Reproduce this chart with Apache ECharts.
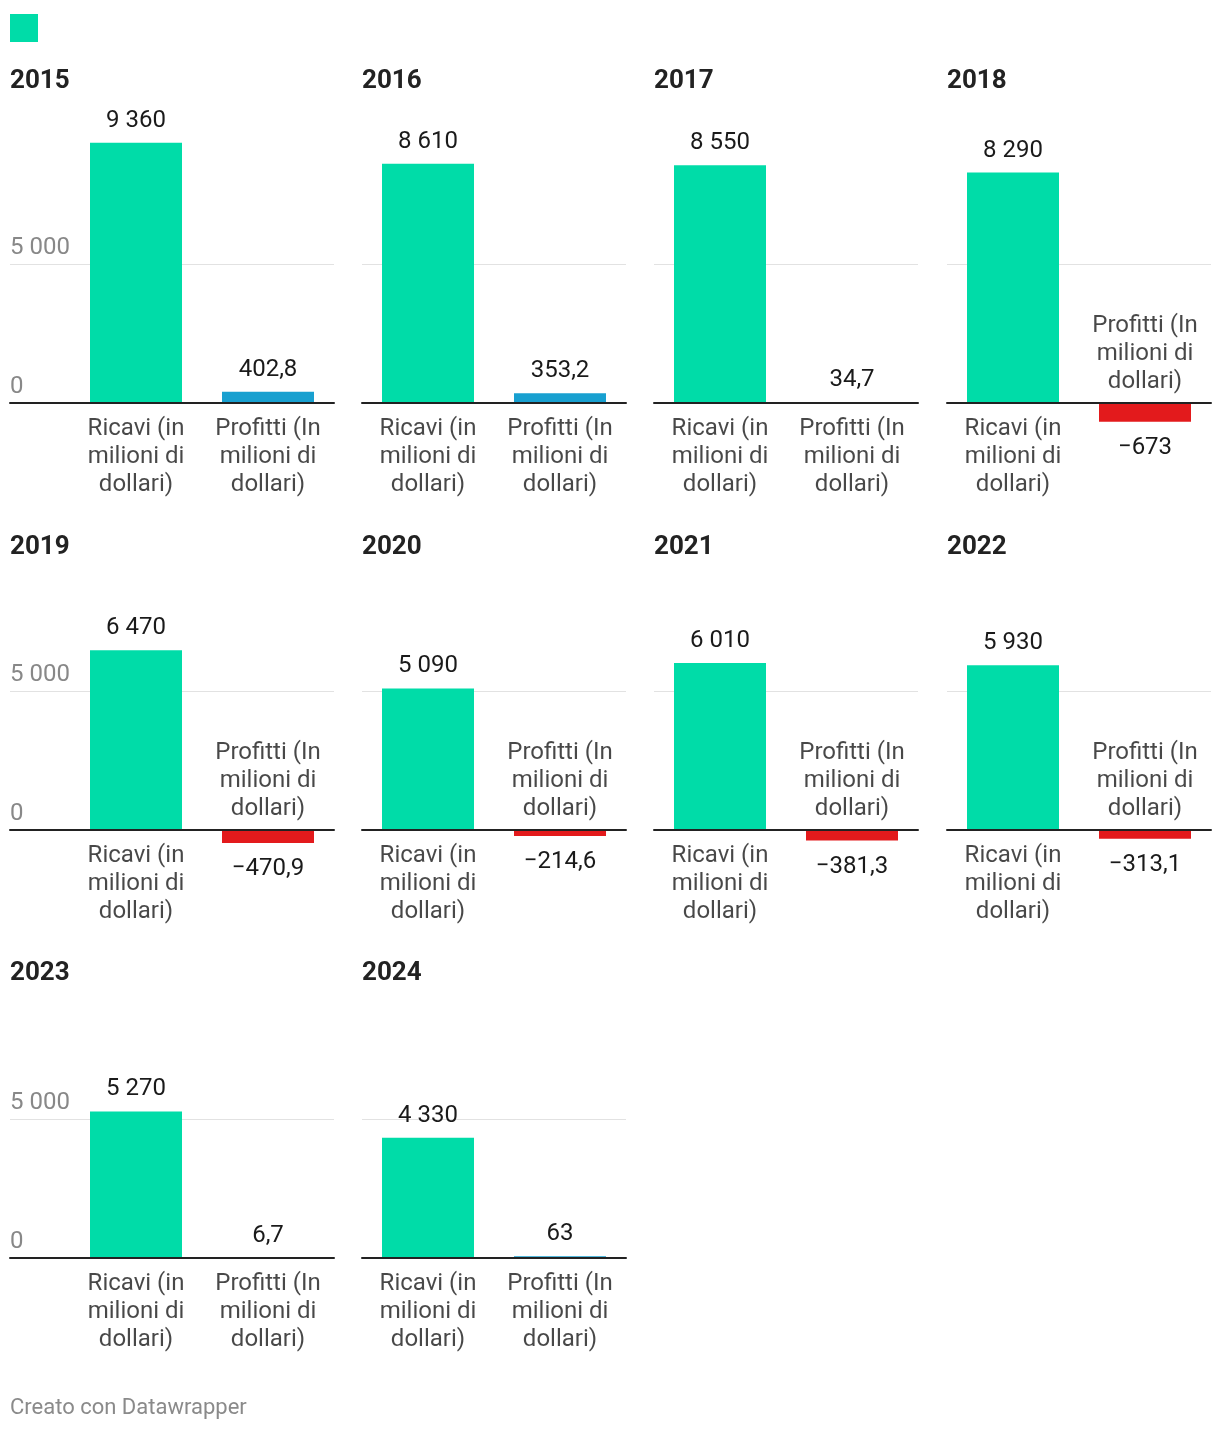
<!DOCTYPE html>
<html><head><meta charset="utf-8">
<script src="https://cdn.jsdelivr.net/npm/echarts@6/dist/echarts.min.js"></script>
<style>html,body{margin:0;padding:0;background:#fff}#c{width:1220px;height:1432px}</style>
</head><body><div id="c"></div>
<script>
// ---- data ----
const years = [2015, 2016, 2017, 2018, 2019, 2020, 2021, 2022, 2023, 2024];
const ricavi = [9360, 8610, 8550, 8290, 6470, 5090, 6010, 5930, 5270, 4330];
const profitti = [402.8, 353.2, 34.7, -673, -470.9, -214.6, -381.3, -313.1, 6.7, 63];
const categories = ['Ricavi (in\nmilioni di\ndollari)', 'Profitti (In\nmilioni di\ndollari)'];
const yTicks = [0, 5000];

// ---- layout / style ----
const FONT = 'Roboto';
const TEAL = '#00dca8', BLUE = '#18a0d0', RED = '#e31a1c';
const colLeft = [70, 362, 654, 947];
const bgLeft = [10, 362, 654, 947];
const PW = 264;
const baselines = [403, 830, 1258];
const titleOffset = [323, 284, 286];
const K = 0.0278;
const YMAX = 10000, YMIN = -5000;

function fmt(v) {
  const neg = v < 0;
  const s = String(Math.abs(v)).split('.');
  const intPart = s[0].replace(/\B(?=(\d{3})+(?!\d))/g, ' ');
  return (neg ? '\u2212' : '') + intPart + (s[1] ? ',' + s[1] : '');
}

const grid = [], xAxis = [], yAxis = [], series = [], title = [];
years.forEach((yr, i) => {
  const r = Math.floor(i / 4), c = i % 4;
  const base = baselines[r];
  const top = base - YMAX * K;
  const height = (YMAX - YMIN) * K;
  const bgI = 2 * i, barI = 2 * i + 1;
  grid.push({ left: bgLeft[c], width: colLeft[c] + PW - bgLeft[c], top: top, height: height });
  grid.push({ left: colLeft[c], width: PW, top: top, height: height });
  xAxis.push({
    type: 'category', gridIndex: bgI, data: categories, z: 10,
    axisLine: { show: true, onZero: true, lineStyle: { color: '#222', width: 2 } },
    axisTick: { show: false }, axisLabel: { show: false }, splitLine: { show: false }
  });
  xAxis.push({ type: 'category', gridIndex: barI, data: categories, show: false });
  yAxis.push({
    type: 'value', gridIndex: bgI, min: YMIN, max: YMAX, interval: 5000,
    axisLine: { show: false }, axisTick: { show: false },
    splitLine: { show: true, showMinLine: false, showMaxLine: false, lineStyle: { color: '#e2e2e2', width: 1 } },
    axisLabel: {
      show: c === 0, inside: true, margin: 0, align: 'left', verticalAlign: 'bottom',
      padding: [0, 0, 4, 0], lineHeight: 24, color: '#888', fontFamily: FONT, fontSize: 24,
      showMinLabel: false, showMaxLabel: false,
      formatter: v => yTicks.includes(v) ? fmt(v) : ''
    }
  });
  yAxis.push({ type: 'value', gridIndex: barI, min: YMIN, max: YMAX, show: false });

  const vals = [ricavi[i], profitti[i]];
  series.push({
    type: 'bar', name: 'Ricavi', xAxisIndex: barI, yAxisIndex: barI,
    barWidth: 92, itemStyle: { color: TEAL },
    label: {
      show: true, fontFamily: FONT, fontSize: 24, lineHeight: 28, color: '#1a1a1a',
      formatter: p => fmt(p.value)
    },
    data: vals.map((v, j) => ({
      value: v,
      itemStyle: { color: j === 0 ? TEAL : (v >= 0 ? BLUE : RED) },
      label: { position: v >= 0 ? 'top' : 'bottom', distance: v >= 0 ? 8 : 12 }
    }))
  });
  series.push({
    type: 'scatter', xAxisIndex: barI, yAxisIndex: barI, symbolSize: 1, silent: true,
    itemStyle: { color: 'rgba(0,0,0,0)' },
    label: {
      show: true, fontFamily: FONT, fontSize: 24, lineHeight: 28, color: '#1a1a1a',
      formatter: p => categories[p.value[0]]
    },
    data: vals.map((v, j) => ({
      value: [j, 0],
      label: { position: v >= 0 ? 'bottom' : 'top', distance: v >= 0 ? 11 : 7 }
    }))
  });
  title.push({
    text: String(yr), left: bgLeft[c], top: base - titleOffset[r] - 14, padding: 0,
    textStyle: { fontFamily: FONT, fontWeight: 'bold', fontSize: 26, lineHeight: 30, color: '#222' }
  });
});
title.push({
  text: 'Creato con Datawrapper', left: 10, top: 1395, padding: 0,
  textStyle: { fontFamily: FONT, fontWeight: 'normal', fontSize: 22, lineHeight: 26, color: '#8a8a8a' }
});

const chart = echarts.init(document.getElementById('c'));
chart.setOption({
  animation: false,
  backgroundColor: '#fff',
  textStyle: { fontFamily: FONT },
  title: title,
  legend: {
    left: 10, top: 14, padding: 0, itemWidth: 28, itemHeight: 28, itemGap: 0, icon: 'rect',
    selectedMode: false, data: ['Ricavi'], formatter: () => '', textStyle: { fontSize: 1 }
  },
  grid: grid, xAxis: xAxis, yAxis: yAxis, series: series
});
</script>
</body></html>
